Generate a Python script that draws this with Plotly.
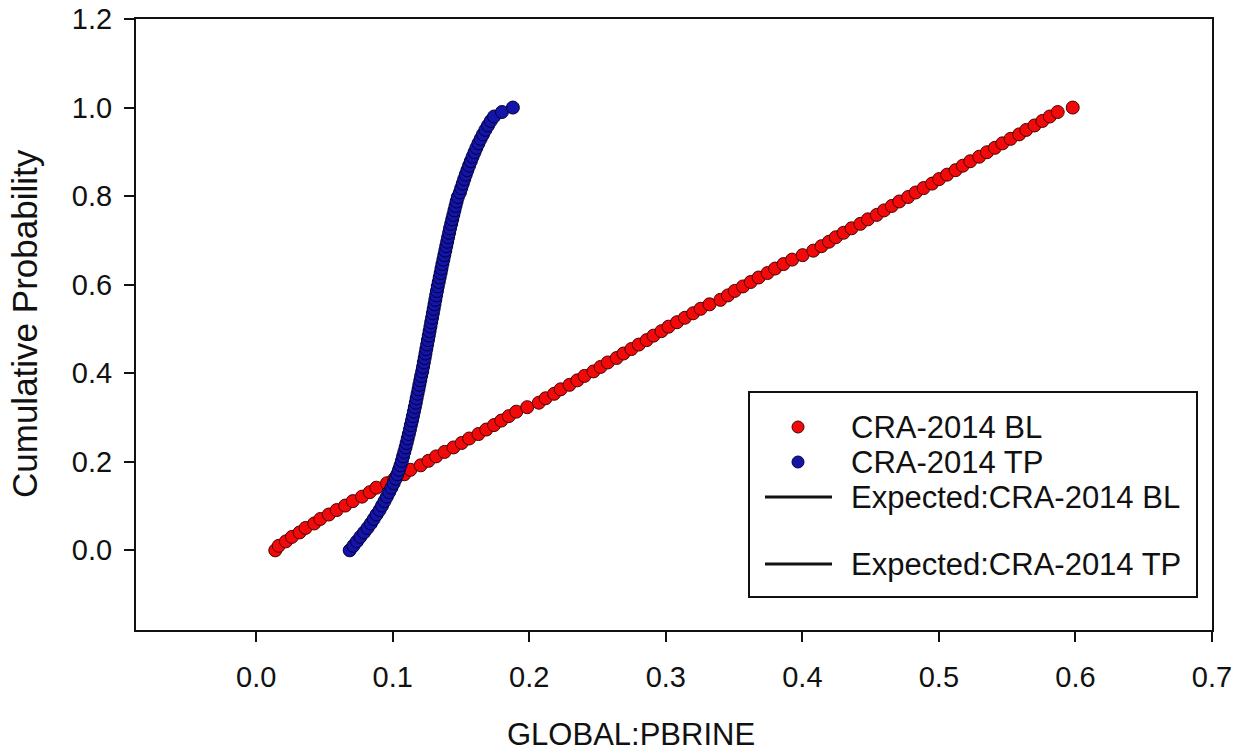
import plotly.graph_objects as go

# GLOBAL:PBRINE sample values (sorted)
bl_values = [
    0.0140, 0.0165, 0.0218, 0.0262, 0.0318, 0.0362, 0.0425, 0.0470, 0.0532, 0.0590,
    0.0652, 0.0708, 0.0775, 0.0832, 0.0880, 0.0958, 0.1012, 0.1085, 0.1130, 0.1205,
    0.1262, 0.1318, 0.1380, 0.1445, 0.1505, 0.1560, 0.1628, 0.1685, 0.1742, 0.1795,
    0.1850, 0.1905, 0.1985, 0.2070, 0.2120, 0.2182, 0.2230, 0.2295, 0.2352, 0.2405,
    0.2470, 0.2522, 0.2575, 0.2640, 0.2690, 0.2748, 0.2802, 0.2860, 0.2910, 0.2968,
    0.3020, 0.3082, 0.3140, 0.3200, 0.3255, 0.3320, 0.3400, 0.3455, 0.3505, 0.3565,
    0.3622, 0.3680, 0.3745, 0.3800, 0.3862, 0.3925, 0.4002, 0.4080, 0.4140, 0.4195,
    0.4245, 0.4302, 0.4360, 0.4425, 0.4480, 0.4545, 0.4598, 0.4655, 0.4710, 0.4775,
    0.4830, 0.4888, 0.4950, 0.5002, 0.5060, 0.5122, 0.5175, 0.5230, 0.5295, 0.5352,
    0.5410, 0.5465, 0.5525, 0.5588, 0.5640, 0.5700, 0.5758, 0.5812, 0.5870, 0.5980,
]
tp_values = [
    0.0685, 0.0712, 0.0738, 0.0763, 0.0790, 0.0816, 0.0840, 0.0861, 0.0882, 0.0904,
    0.0922, 0.0940, 0.0957, 0.0974, 0.0991, 0.1007, 0.1022, 0.1034, 0.1046, 0.1057,
    0.1067, 0.1076, 0.1085, 0.1094, 0.1102, 0.1110, 0.1118, 0.1126, 0.1133, 0.1141,
    0.1148, 0.1155, 0.1162, 0.1169, 0.1175, 0.1182, 0.1189, 0.1195, 0.1202, 0.1208,
    0.1216, 0.1222, 0.1228, 0.1234, 0.1240, 0.1246, 0.1252, 0.1258, 0.1264, 0.1270,
    0.1276, 0.1282, 0.1288, 0.1294, 0.1300, 0.1306, 0.1312, 0.1318, 0.1324, 0.1330,
    0.1337, 0.1344, 0.1351, 0.1357, 0.1364, 0.1371, 0.1378, 0.1385, 0.1392, 0.1399,
    0.1406, 0.1413, 0.1420, 0.1428, 0.1436, 0.1444, 0.1452, 0.1460, 0.1468, 0.1477,
    0.1492, 0.1502, 0.1513, 0.1524, 0.1535, 0.1547, 0.1559, 0.1572, 0.1585, 0.1599,
    0.1613, 0.1628, 0.1644, 0.1661, 0.1679, 0.1698, 0.1718, 0.1742, 0.1800, 0.1880,
]

series_names = ["CRA-2014 BL", "CRA-2014 TP"]
expected_names = ["Expected:CRA-2014 BL", "Expected:CRA-2014 TP"]
x_ticks = [0.0, 0.1, 0.2, 0.3, 0.4, 0.5, 0.6, 0.7]
y_ticks = [0.0, 0.2, 0.4, 0.6, 0.8, 1.0, 1.2]
x_title = "GLOBAL:PBRINE"
y_title = "Cumulative Probability"


def ecdf(values):
    v = sorted(values)
    n = len(v)
    return v, [i / (n - 1) for i in range(n)]


FONT = "Liberation Sans, Arial, sans-serif"
RED = "#f20a0a"
RED_EDGE = "#4a0000"
BLUE = "#1414a8"
BLUE_EDGE = "#00003a"

fig = go.Figure()
for vals, name, fill, edge in [
    (bl_values, series_names[0], RED, RED_EDGE),
    (tp_values, series_names[1], BLUE, BLUE_EDGE),
]:
    xs, ps = ecdf(vals)
    fig.add_trace(go.Scatter(
        x=xs, y=ps, mode="markers", name=name, showlegend=False,
        marker=dict(size=13, color=fill, line=dict(color=edge, width=1)),
    ))

axis_common = dict(
    showline=True, linecolor="#111", linewidth=2, mirror=True,
    ticks="outside", ticklen=10, tickwidth=2, tickcolor="#111",
    showgrid=False, zeroline=False, automargin=False,
    tickfont=dict(family=FONT, size=29, color="#111"),
)
fig.update_xaxes(range=[-0.088, 0.7], tickvals=x_ticks, tickformat=".1f",
                 ticklabelstandoff=10, **axis_common)
fig.update_yaxes(range=[-0.18, 1.2], tickvals=y_ticks, tickformat=".1f",
                 ticklabelstandoff=6, **axis_common)

# plot area in pixels: x 136..1212, y 19..630
W, H = 1241, 751
L, R, T, B = 136, 1212, 19, 630


def px(xp):
    return (xp - L) / (R - L)


def py(yp):
    return (B - yp) / (B - T)


annotations = [
    dict(text=x_title, x=px(631), y=py(734), xref="paper", yref="paper",
         showarrow=False, font=dict(family=FONT, size=31, color="#111"),
         xanchor="center", yanchor="middle"),
    dict(text=y_title, x=px(24), y=py(324), xref="paper", yref="paper",
         showarrow=False, textangle=-90, font=dict(family=FONT, size=35, color="#111"),
         xanchor="center", yanchor="middle"),
]

shapes = [
    dict(type="rect", xref="paper", yref="paper", x0=px(749), x1=px(1197),
         y0=py(597), y1=py(392), line=dict(color="#111", width=2), fillcolor="white",
         layer="above"),
]

legend_rows = [
    ("marker", series_names[0], 427, RED, RED_EDGE),
    ("marker", series_names[1], 462, BLUE, BLUE_EDGE),
    ("line", expected_names[0], 497, "#111", None),
    ("line", expected_names[1], 564, "#111", None),
]
for kind, label, ypix, col, edge in legend_rows:
    if kind == "marker":
        shapes.append(dict(type="circle", xref="paper", yref="paper",
                           xsizemode="pixel", ysizemode="pixel",
                           xanchor=px(798), yanchor=py(ypix),
                           x0=-6, x1=6, y0=-6, y1=6,
                           fillcolor=col, line=dict(color=edge, width=1), layer="above"))
    else:
        shapes.append(dict(type="line", xref="paper", yref="paper",
                           x0=px(765), x1=px(832), y0=py(ypix), y1=py(ypix),
                           line=dict(color=col, width=3), layer="above"))
    annotations.append(dict(text=label, x=px(849), y=py(ypix), xref="paper", yref="paper",
                            showarrow=False, xanchor="left", yanchor="middle",
                            font=dict(family=FONT, size=31, color="#111")))

fig.update_layout(
    width=W, height=H,
    margin=dict(l=L, r=W - R, t=T, b=H - B, pad=0),
    paper_bgcolor="white", plot_bgcolor="white",
    showlegend=False,
    annotations=annotations, shapes=shapes,
)

fig.write_html("out.html", config={"displayModeBar": False})
